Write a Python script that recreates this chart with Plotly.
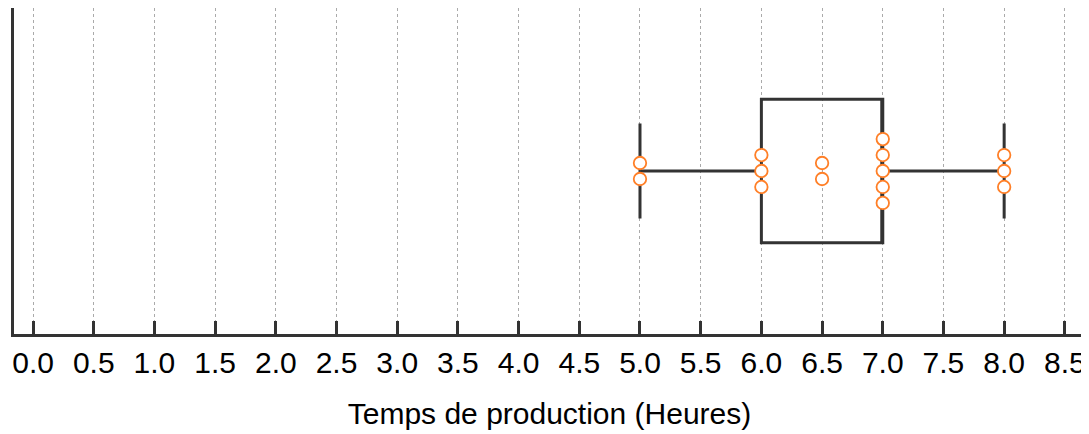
import plotly.graph_objects as go
from collections import Counter

# Data: production time (hours)
temps = [5.0, 5.0, 6.0, 6.0, 6.0, 6.5, 6.5, 7.0, 7.0, 7.0, 7.0, 7.0, 8.0, 8.0, 8.0]
tick_vals = [i * 0.5 for i in range(18)]
tick_text = [f"{v:.1f}" for v in tick_vals]
x_title = "Temps de production (Heures)"

# dot-plot stacking: vertical offsets for repeated values
step = 0.0979
dot_x, dot_y = [], []
for v, k in sorted(Counter(temps).items()):
    for i in range(k):
        dot_x.append(v)
        dot_y.append((i - (k - 1) / 2) * step)

fig = go.Figure()
fig.add_trace(go.Box(
    x=temps, y0=0, orientation="h", boxpoints=False,
    line=dict(color="#333333", width=3), fillcolor="rgba(255,255,255,0)",
    width=0.881, whiskerwidth=0.66, quartilemethod="linear",
    showlegend=False, hoverinfo="x",
))
fig.add_trace(go.Scatter(
    x=dot_x, y=dot_y, mode="markers",
    marker=dict(symbol="circle", size=12.5, color="white",
                line=dict(color="#ff7f27", width=1.8)),
    showlegend=False,
))

font_family = "Liberation Sans, Arial, sans-serif"
# page body has an 8px margin, so the figure is sized to fit the window
fig.update_layout(
    width=1081, height=426,
    margin=dict(l=6, r=4, t=0, b=100),
    paper_bgcolor="white", plot_bgcolor="white",
    font=dict(family=font_family, color="black"),
)
fig.update_xaxes(
    range=[-0.157, 8.666], tickvals=tick_vals, ticktext=tick_text,
    ticks="inside", ticklen=13, tickwidth=2.5, tickcolor="#333333",
    showline=True, linewidth=3, linecolor="#333333",
    showgrid=True, gridcolor="#aaaaaa", gridwidth=1, griddash="dot",
    zeroline=False, tickfont=dict(size=30, color="black"), automargin=False,
    title=dict(text=x_title, font=dict(size=30, color="black"), standoff=25),
)
fig.update_yaxes(
    range=[-1, 1], showticklabels=False, ticks="", showgrid=False,
    zeroline=False, showline=True, linewidth=3, linecolor="#333333",
    automargin=False,
)
fig.write_html("out.html")
